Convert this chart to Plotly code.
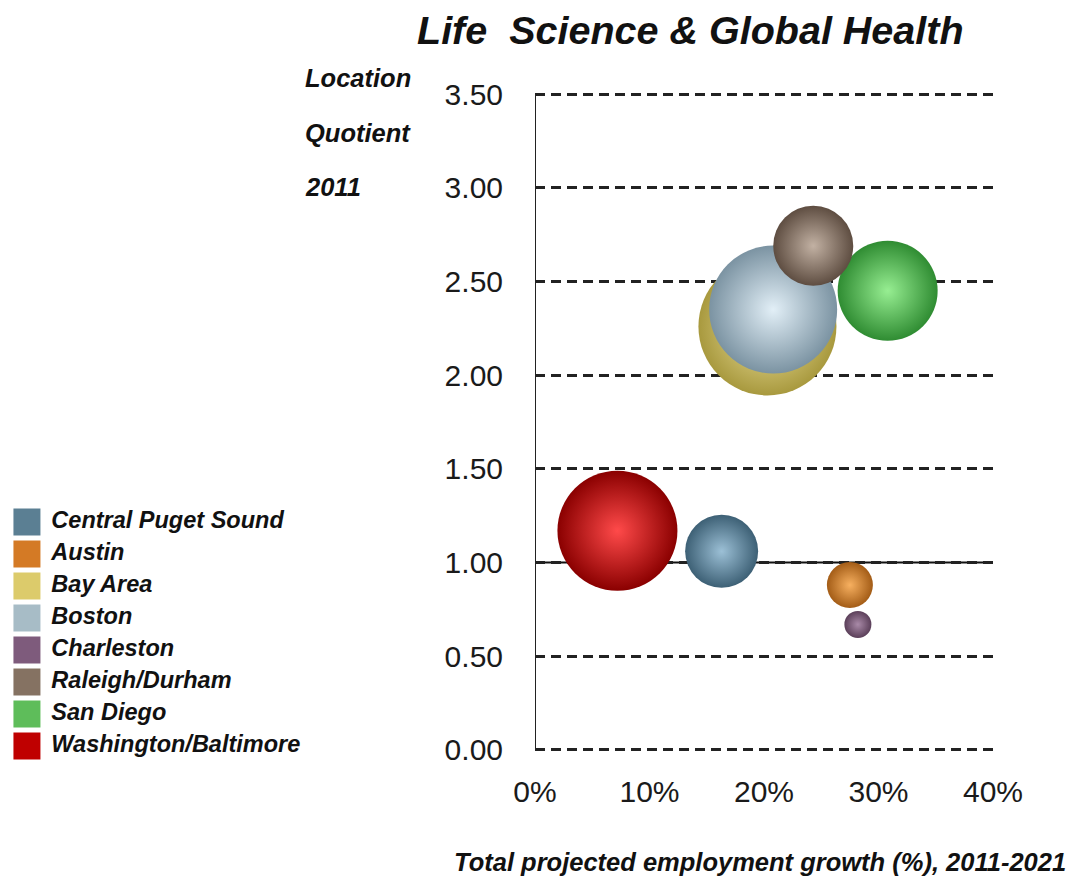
import plotly.graph_objects as go

W, H = 1074, 882
PAD = 8  # the page body margin shifts the figure by this much

# data (legend order)
cities = ['Central Puget Sound', 'Austin', 'Bay Area', 'Boston', 'Charleston',
          'Raleigh/Durham', 'San Diego', 'Washington/Baltimore']
growth = [16.3, 27.5, 20.3, 20.8, 28.2, 24.3, 30.8, 7.2]          # % growth 2011-2021
lq = [1.06, 0.88, 2.26, 2.35, 0.67, 2.69, 2.45, 1.17]             # location quotient 2011
bubble = [73, 46, 138, 128, 27, 80, 100, 120]                     # relative bubble size
colors = ['#5B7F93', '#D47A25', '#DCCB6B', '#A7BCC6', '#7E5B7C', '#857262', '#5EBD5A', '#BF0000']
hilite = ['#9CC0D6', '#F7B060', '#F2E6A2', '#E2EFF7', '#A98AA8', '#C2B1A3', '#97EE92', '#FF4A4A']
shade = ['#3D6075', '#A35C16', '#A8993E', '#7B93A2', '#5B3F59', '#5E4D41', '#2F8C32', '#8A0000']

x_ticks = [0, 10, 20, 30, 40]
y_ticks = [0, 0.5, 1.0, 1.5, 2.0, 2.5, 3.0, 3.5]
baseline = 1.0

SANS = 'Liberation Sans, Arial, sans-serif'


def px(x):
    return (x - PAD) / W


def py(y):
    return 1 - (y - PAD) / H


# biggest bubbles first so the small ones sit on top
order = sorted(range(len(cities)), key=lambda i: -bubble[i])

fig = go.Figure()
fig.add_trace(go.Scatter(
    x=[growth[i] for i in order], y=[lq[i] for i in order],
    mode='markers', hoverinfo='text', text=[cities[i] for i in order],
    marker=dict(size=[bubble[i] for i in order], sizemode='diameter',
                color=[shade[i] for i in order],
                gradient=dict(type='radial', color=[hilite[i] for i in order]),
                line=dict(width=0), opacity=1),
    showlegend=False, xaxis='x', yaxis='y'))

# hand-made legend on its own axes
fig.add_trace(go.Scatter(
    x=[0] * len(cities), y=list(range(len(cities))),
    mode='markers+text', text=['\u00a0' + c for c in cities], textposition='middle right',
    textfont=dict(family=SANS, size=23.5, color='#111', weight='bold', style='italic'),
    marker=dict(symbol='square', size=27, color=colors, line=dict(width=0)),
    hoverinfo='skip', showlegend=False, xaxis='x2', yaxis='y2'))

y_lo, y_hi = -0.03, 3.53
fig.update_layout(
    width=W, height=H, margin=dict(l=0, r=0, t=0, b=0, autoexpand=False),
    paper_bgcolor='white', plot_bgcolor='white',
    xaxis=dict(domain=[px(535), px(993)], range=[0, 40], anchor='y', automargin=False,
               tickvals=x_ticks, ticktext=[f'{v}%' for v in x_ticks],
               showgrid=False, zeroline=False, showline=False, ticks='',
               ticklabelstandoff=15,
               tickfont=dict(family=SANS, size=30, color='#1a1a1a')),
    yaxis=dict(domain=[py(755.6), py(88.4)], range=[y_lo, y_hi], anchor='x',
               automargin=False, tickvals=y_ticks, tickformat='.2f',
               showgrid=True, gridcolor='#222', gridwidth=2.5, griddash='10px,6px',
               zeroline=False, showline=False, ticks='', ticklabelstandoff=31,
               tickfont=dict(family=SANS, size=30, color='#1a1a1a')),
    xaxis2=dict(domain=[px(8), px(330)], range=[-1, 16], anchor='y2', visible=False,
                automargin=False),
    yaxis2=dict(domain=[py(762), py(506)], range=[7.5, -0.5], anchor='x2',
                visible=False, automargin=False),
)

# axis line and the solid LQ = 1 reference line
fig.add_shape(type='line', xref='x', yref='y', x0=0, x1=0, y0=0, y1=y_ticks[-1],
              line=dict(color='#222', width=2), layer='below')
fig.add_shape(type='line', xref='x', yref='y', x0=0, x1=x_ticks[-1], y0=baseline, y1=baseline,
              line=dict(color='#111', width=2), layer='below')

fig.add_annotation(text='Life\u00a0 Science & Global Health', xref='paper', yref='paper',
                   x=px(690), y=py(30), showarrow=False, xanchor='center', yanchor='middle',
                   font=dict(family=SANS, size=39.5, color='#111', weight='bold', style='italic'))
for txt, ty in zip(['Location', 'Quotient', '2011'], [78, 133, 187]):
    fig.add_annotation(text=txt, xref='paper', yref='paper', x=px(303), y=py(ty),
                       showarrow=False, xanchor='left', yanchor='middle',
                       font=dict(family=SANS, size=25.5, color='#111', weight='bold', style='italic'))
fig.add_annotation(text='Total projected employment growth (%), 2011-2021', xref='paper', yref='paper',
                   x=px(760), y=py(862), showarrow=False, xanchor='center', yanchor='middle',
                   font=dict(family=SANS, size=25.5, color='#111', weight='bold', style='italic'))

fig.write_html('out.html')
